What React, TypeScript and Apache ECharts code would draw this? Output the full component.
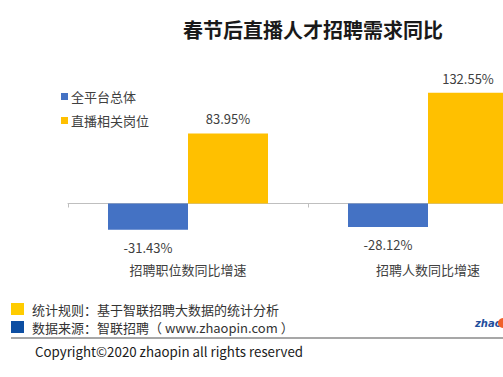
import React, { useEffect, useRef } from "react";
import * as echarts from "echarts";

const categories = ["招聘职位数同比增速", "招聘人数同比增速"];
const seriesNames = ["全平台总体", "直播相关岗位"];
const overallValues = [-31.43, -28.12];
const liveValues = [83.95, 132.55];
const titleText = "春节后直播人才招聘需求同比";
const noteLines = ["统计规则：基于智联招聘大数据的统计分析", "数据来源：智联招聘（ www.zhaopin.com ）"];
const copyrightText = "Copyright©2020 zhaopin all rights reserved";

const FONT = '"Noto Sans CJK SC", "Noto Sans", sans-serif';

export default function App() {
  const ref = useRef<HTMLDivElement>(null);
  useEffect(() => {
    if (!ref.current) return;
    const chart = echarts.init(ref.current, undefined, { renderer: "svg" });
    chart.setOption({
      animation: false,
      backgroundColor: "#ffffff",
      textStyle: { fontFamily: FONT },
      legend: {
        orient: "vertical",
        left: 56,
        top: 85,
        itemWidth: 7,
        itemHeight: 7,
        itemGap: 11,
        icon: "rect",
        textStyle: { fontSize: 13, color: "#404040", fontFamily: FONT, padding: [0, 0, 0, -2] },
        data: seriesNames,
      },
      grid: { left: 68, width: 480, top: 78.25, height: 175.35, containLabel: false },
      xAxis: {
        type: "category",
        data: categories,
        axisLine: { show: true, lineStyle: { color: "#BFBFBF", width: 1 } },
        axisTick: { show: true, length: 4, lineStyle: { color: "#BFBFBF" } },
        axisLabel: { margin: 9, fontSize: 13, color: "#404040", fontFamily: FONT },
        splitLine: { show: false },
      },
      yAxis: {
        type: "value",
        min: -60,
        max: 150,
        show: false,
        splitLine: { show: false },
      },
      series: [
        {
          name: seriesNames[0],
          type: "bar",
          data: overallValues,
          barWidth: 80,
          barGap: "0%",
          itemStyle: { color: "#4472C4" },
          label: {
            show: true,
            position: "bottom",
            distance: 11,
            fontSize: 13,
            color: "#404040",
            fontFamily: FONT,
            formatter: (p: any) => p.value.toFixed(2) + "%",
          },
        },
        {
          name: seriesNames[1],
          type: "bar",
          data: liveValues,
          barWidth: 80,
          barGap: "0%",
          itemStyle: { color: "#FFC000" },
          label: {
            show: true,
            position: "top",
            distance: 8,
            fontSize: 13,
            color: "#404040",
            fontFamily: FONT,
            formatter: (p: any) => p.value.toFixed(2) + "%",
          },
        },
      ],
      graphic: [
        {
          type: "text",
          x: 313,
          y: 29,
          style: {
            text: titleText,
            fontSize: 20,
            fontWeight: "bold",
            fill: "#1a1a1a",
            fontFamily: FONT,
            align: "center",
            verticalAlign: "middle",
          },
        },
        { type: "rect", shape: { x: 11, y: 303, width: 13, height: 12 }, style: { fill: "#FFCC00" } },
        { type: "rect", shape: { x: 11, y: 321, width: 13, height: 12 }, style: { fill: "#0D4EA2" } },
        {
          type: "text",
          x: 32,
          y: 309,
          style: { text: noteLines[0], fontSize: 13, fill: "#333333", fontFamily: FONT, verticalAlign: "middle" },
        },
        {
          type: "text",
          x: 32,
          y: 327,
          style: { text: noteLines[1], fontSize: 13, fill: "#333333", fontFamily: FONT, verticalAlign: "middle" },
        },
        {
          type: "line",
          shape: { x1: 11, y1: 338, x2: 503, y2: 338 },
          style: { stroke: "#8a8a8a", lineWidth: 1.5 },
        },
        {
          type: "text",
          x: 35,
          y: 351,
          style: { text: copyrightText, fontSize: 13.3, fill: "#1a1a1a", fontFamily: FONT, verticalAlign: "middle" },
        },
        {
          type: "text",
          x: 475,
          y: 323,
          style: {
            text: "zhao",
            fontSize: 10,
            fontWeight: "bold",
            fontStyle: "italic",
            fill: "#1F4E9C",
            fontFamily: '"DejaVu Sans", sans-serif',
            verticalAlign: "middle",
          },
        },
        { type: "circle", shape: { cx: 503, cy: 323, r: 5 }, style: { fill: "#F0602A" } },
      ],
    });
    return () => chart.dispose();
  }, []);
  return (
    <div style={{ position: "fixed", left: 0, top: 0, width: 503, height: 377, overflow: "hidden", background: "#fff" }}>
      <div ref={ref} style={{ position: "absolute", left: 0, top: 0, width: 560, height: 377 }} />
    </div>
  );
}
